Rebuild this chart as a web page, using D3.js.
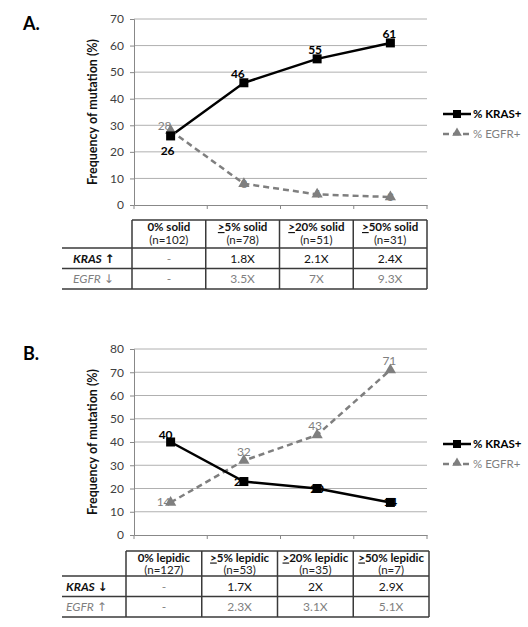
<!DOCTYPE html>
<html><head><meta charset="utf-8">
<script src="https://cdn.jsdelivr.net/npm/d3@7"></script>
<style>body{margin:0;background:#fff}svg{display:block}text{font-family:Lato,"Open Sans",sans-serif}</style>
</head><body><svg id="c" width="528" height="627"></svg>
<script>
// ---- Data ----
const categoriesA = ["0% solid", "≥5% solid", "≥20% solid", "≥50% solid"];
const nA = ["(n=102)", "(n=78)", "(n=51)", "(n=31)"];
const krasA = [26, 46, 55, 61];
const egfrA = [28, 8, 4, 3];
const krasFoldA = ["-", "1.8X", "2.1X", "2.4X"];
const egfrFoldA = ["-", "3.5X", "7X", "9.3X"];
const yTicksA = [0, 10, 20, 30, 40, 50, 60, 70];

const categoriesB = ["0% lepidic", "≥5% lepidic", "≥20% lepidic", "≥50% lepidic"];
const nB = ["(n=127)", "(n=53)", "(n=35)", "(n=7)"];
const krasB = [40, 23, 20, 14];
const egfrB = [14, 32, 43, 71];
const krasFoldB = ["-", "1.7X", "2X", "2.9X"];
const egfrFoldB = ["-", "2.3X", "3.1X", "5.1X"];
const yTicksB = [0, 10, 20, 30, 40, 50, 60, 70, 80];

const seriesNames = ["% KRAS+", "% EGFR+"];

const svg = d3.select("#c");
const GRAY = "#7f7f7f";
const FS = 12;

function panel(o) {
  const g = svg.append("g");
  const x = d3.scaleBand().domain(o.cats).range([134, 427]).padding(0);
  const y = d3.scaleLinear().domain([0, d3.max(o.ticks)]).range([o.bottom, o.top]);
  const cx = c => x(c) + x.bandwidth() / 2;

  // panel letter
  g.append("text").attr("x", 23).attr("y", o.top + 11).attr("font-size", 18).attr("font-weight", "bold").text(o.letter);

  // gridlines
  g.selectAll(".grid").data(o.ticks.filter(t => t > 0)).join("line")
    .attr("x1", 134).attr("x2", 427).attr("y1", d => y(d)).attr("y2", d => y(d))
    .attr("stroke", "#b0b0b0").attr("stroke-width", 1);

  // y axis
  const ya = g.append("g").attr("transform", "translate(134,0)")
    .call(d3.axisLeft(y).tickValues(o.ticks).tickSize(4).tickPadding(6));
  ya.select(".domain").attr("stroke", "#888");
  ya.selectAll(".tick line").attr("stroke", "#888");
  ya.selectAll(".tick text").attr("font-size", FS).attr("fill", "#404040").attr("font-family", "Lato,sans-serif");

  // x axis
  const xa = g.append("g").attr("transform", `translate(0,${o.bottom})`)
    .call(d3.axisBottom(x).tickSize(0).tickFormat(""));
  xa.select(".domain").attr("stroke", "#888");
  const bounds = o.cats.map(c => x(c)).concat([427]);
  g.selectAll(".xt").data(bounds).join("line")
    .attr("x1", d => d).attr("x2", d => d).attr("y1", o.bottom).attr("y2", o.bottom + 4)
    .attr("stroke", "#888");

  // y axis title
  g.append("text").attr("transform", `translate(97,${(o.top + o.bottom) / 2}) rotate(-90)`)
    .attr("text-anchor", "middle").attr("font-size", 12.5).attr("font-weight", "bold")
    .attr("fill", "#111").text("Frequency of mutation (%)");

  // lines
  const line = d3.line().x((d, i) => cx(o.cats[i])).y(d => y(d));
  g.append("path").datum(o.egfr).attr("d", line).attr("fill", "none")
    .attr("stroke", GRAY).attr("stroke-width", 2.5).attr("stroke-dasharray", "6,4");
  g.append("path").datum(o.kras).attr("d", line).attr("fill", "none")
    .attr("stroke", "#000").attr("stroke-width", 2.5);

  const tri = d3.symbol().type(d3.symbolTriangle).size(55);
  g.selectAll(".tri").data(o.egfr).join("path")
    .attr("transform", (d, i) => `translate(${cx(o.cats[i])},${y(d)})`)
    .attr("d", tri).attr("fill", GRAY);
  g.selectAll(".sq").data(o.kras).join("rect")
    .attr("x", (d, i) => cx(o.cats[i]) - 4.5).attr("y", d => y(d) - 4.5)
    .attr("width", 9).attr("height", 9).attr("fill", "#000");

  // data labels
  g.selectAll(".kl").data(o.kras).join("text")
    .attr("x", (d, i) => cx(o.cats[i]) + o.kOff[i][0]).attr("y", (d, i) => y(d) + o.kOff[i][1])
    .attr("text-anchor", "middle").attr("font-size", FS).attr("font-weight", "bold").attr("fill", "#000")
    .text(d => d);
  g.selectAll(".el").data(o.egfr).join("text")
    .attr("x", (d, i) => cx(o.cats[i]) + o.eOff[i][0]).attr("y", (d, i) => y(d) + o.eOff[i][1])
    .attr("text-anchor", "middle").attr("font-size", FS).attr("fill", GRAY)
    .text(d => d);

  // legend
  const lg = g.append("g");
  lg.append("line").attr("x1", 443).attr("x2", 471).attr("y1", o.legY).attr("y2", o.legY)
    .attr("stroke", "#000").attr("stroke-width", 2.5);
  lg.append("rect").attr("x", 453).attr("y", o.legY - 4).attr("width", 8).attr("height", 8).attr("fill", "#000");
  lg.append("text").attr("x", 473).attr("y", o.legY + 4).attr("font-size", 11.5).attr("font-weight", "bold").text(seriesNames[0]);
  lg.append("line").attr("x1", 443).attr("x2", 471).attr("y1", o.legY + 20).attr("y2", o.legY + 20)
    .attr("stroke", GRAY).attr("stroke-width", 2.5).attr("stroke-dasharray", "6,4");
  lg.append("path").attr("transform", `translate(457,${o.legY + 19})`).attr("d", d3.symbol().type(d3.symbolTriangle).size(40)).attr("fill", GRAY);
  lg.append("text").attr("x", 473).attr("y", o.legY + 24).attr("font-size", 11.5).attr("fill", GRAY).text(seriesNames[1]);

  // table
  const tx = d3.scaleBand().domain(o.cats).range([o.tLeft, o.tRight]);
  const t0 = o.tableTop, t1 = o.tableTop + o.hH, t2 = t1 + o.rH, t3 = t2 + o.rH;
  const B = "#3a3a3a";
  g.append("line").attr("x1", o.tLeft).attr("x2", o.tRight).attr("y1", t0).attr("y2", t0).attr("stroke", B).attr("stroke-width", 1.5);
  [t1, t2, t3].forEach(yy => g.append("line").attr("x1", 62).attr("x2", o.tRight).attr("y1", yy).attr("y2", yy).attr("stroke", B).attr("stroke-width", 1.5));
  o.cats.map(c => tx(c)).concat([o.tRight]).forEach(xx =>
    g.append("line").attr("x1", xx).attr("x2", xx).attr("y1", t0).attr("y2", t3).attr("stroke", B).attr("stroke-width", 1.5));

  const tcx = c => tx(c) + tx.bandwidth() / 2;
  o.cats.forEach((c, i) => {
    const t = g.append("text").attr("x", tcx(c)).attr("y", t0 + o.hY).attr("text-anchor", "middle")
      .attr("font-size", o.hFS).attr("font-weight", "bold").attr("fill", "#111");
    if (c.startsWith("≥")) {
      t.append("tspan").attr("text-decoration", "underline").text(">");
      t.append("tspan").text(c.slice(1));
    } else t.text(c);
    g.append("text").attr("x", tcx(c)).attr("y", t0 + o.nY).attr("text-anchor", "middle")
      .attr("font-size", o.hFS).attr("fill", "#222").text(o.ns[i]);
    g.append("text").attr("x", tcx(c)).attr("y", t1 + 15).attr("text-anchor", "middle")
      .attr("font-size", FS).attr("fill", o.kFold[i] === "-" ? "#888" : "#111").text(o.kFold[i]);
    g.append("text").attr("x", tcx(c)).attr("y", t2 + 14.5).attr("text-anchor", "middle")
      .attr("font-size", FS).attr("fill", "#7f7f7f").text(o.eFold[i]);
  });
  const k = g.append("text").attr("x", o.labX).attr("y", t1 + 15).attr("font-size", FS).attr("font-weight", "bold")
    .attr("font-style", "italic").attr("fill", "#111");
  k.append("tspan").text(o.kLab + " ");
  k.append("tspan").attr("font-family", "'DejaVu Sans',sans-serif").attr("font-style", "normal").attr("font-size", 12).text(o.kArrow);
  const e = g.append("text").attr("x", o.labX).attr("y", t2 + 14.5).attr("font-size", FS)
    .attr("font-style", "italic").attr("fill", "#7f7f7f");
  e.append("tspan").text(o.eLab + " ");
  e.append("tspan").attr("font-family", "'DejaVu Sans',sans-serif").attr("font-style", "normal").attr("font-size", 12).text(o.eArrow);
}

panel({
  letter: "A.", cats: categoriesA, ns: nA, kras: krasA, egfr: egfrA, kFold: krasFoldA, eFold: egfrFoldA,
  ticks: yTicksA, top: 19, bottom: 205, legY: 114, tableTop: 220, hH: 28, rH: 20.5, hY: 11, nY: 24, hFS: 11.5, tLeft: 132, tRight: 427,
  kOff: [[-3, 19], [-6, -5], [-2, -5], [-1, -5]], eOff: [[-6, -1], [0, 4], [0, 4], [0, 4]],
  kLab: "KRAS", kArrow: "↑", eLab: "EGFR", eArrow: "↓", labX: 73
});
panel({
  letter: "B.", cats: categoriesB, ns: nB, kras: krasB, egfr: egfrB, kFold: krasFoldB, eFold: egfrFoldB,
  ticks: yTicksB, top: 349, bottom: 535, legY: 444, tableTop: 551, hH: 25, rH: 20.5, hY: 10.5, nY: 22.5, hFS: 11.5, tLeft: 126, tRight: 429,
  kOff: [[-5, -3], [-3, 4], [0, 4], [0, 4]], eOff: [[-7, 4], [0, -5], [-2, -5], [-1, -5]],
  kLab: "KRAS", kArrow: "↓", eLab: "EGFR", eArrow: "↑", labX: 66
});
</script></body></html>
